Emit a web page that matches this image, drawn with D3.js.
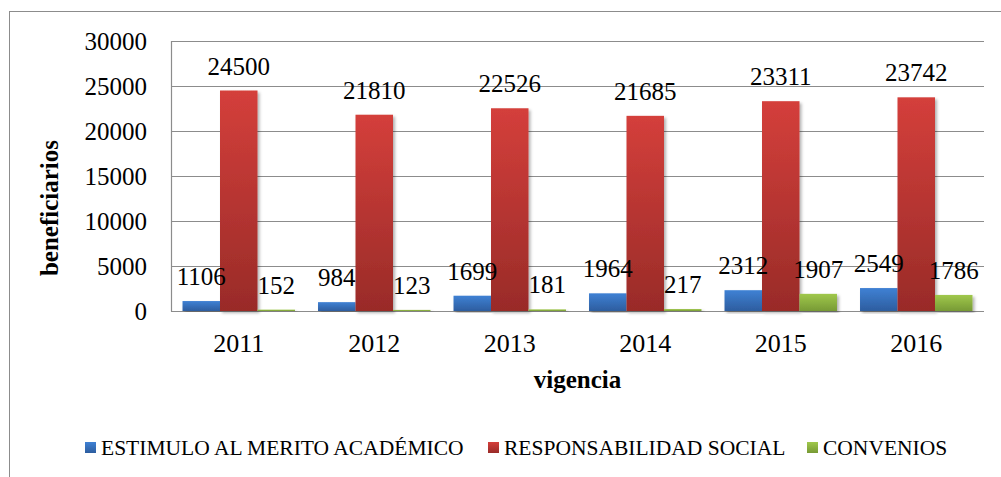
<!DOCTYPE html>
<html><head><meta charset="utf-8">
<script src="https://cdn.jsdelivr.net/npm/d3@7/dist/d3.min.js"></script>
<style>body{margin:0;background:#fff}svg{display:block}</style>
</head><body>
<svg id="c" width="1001" height="477" font-family="'Times New Roman', 'Liberation Serif', serif"></svg>
<script>
const years = ["2011","2012","2013","2014","2015","2016"];
const seriesNames = ["ESTIMULO AL MERITO ACADÉMICO","RESPONSABILIDAD SOCIAL","CONVENIOS"];
const estimulo = [1106,984,1699,1964,2312,2549];
const responsabilidad = [24500,21810,22526,21685,23311,23742];
const convenios = [152,123,181,217,1907,1786];
const yTicks = [0,5000,10000,15000,20000,25000,30000];
const yTitle = "beneficiarios";
const xTitle = "vigencia";

const FONT = "'Times New Roman', 'Liberation Serif', serif";
const values = [estimulo, responsabilidad, convenios];
const colors = [["#3f81d4","#2d5d9f"],["#d43f3b","#992b28"],["#a0c84c","#779a35"]];

const svg = d3.select("#c");
const defs = svg.append("defs");
colors.forEach((c,i)=>{
  const g = defs.append("linearGradient").attr("id","g"+i).attr("x1",0).attr("y1",0).attr("x2",0).attr("y2",1);
  g.append("stop").attr("offset","0%").attr("stop-color",c[0]);
  g.append("stop").attr("offset","100%").attr("stop-color",c[1]);
});
const f = defs.append("filter").attr("id","sh").attr("x","-20%").attr("y","-5%").attr("width","150%").attr("height","115%");
f.append("feDropShadow").attr("dx",2).attr("dy",2).attr("stdDeviation",1.5).attr("flood-color","#000").attr("flood-opacity",0.3);

// outer border
svg.append("rect").attr("x",9.5).attr("y",11.5).attr("width",1010).attr("height",500)
  .attr("fill","none").attr("stroke","#8c8c8c").attr("stroke-width",1);

const L=171, R=984, T=41, B=311;
const y = d3.scaleLinear().domain([0,30000]).range([B,T]);
const x0 = d3.scaleBand().domain(years).range([L,R]).paddingInner(0.17).paddingOuter(0.085);
const x1 = d3.scaleBand().domain(d3.range(3)).range([0,x0.bandwidth()]);

// gridlines
svg.append("g").selectAll("line").data(yTicks).join("line")
  .attr("x1",L).attr("x2",R).attr("y1",d=>Math.round(y(d))+0.5).attr("y2",d=>Math.round(y(d))+0.5)
  .attr("stroke","#8c8c8c").attr("stroke-width",1.2);
svg.append("line").attr("x1",L+0.5).attr("x2",L+0.5).attr("y1",T).attr("y2",B+0.5).attr("stroke","#8c8c8c").attr("stroke-width",1.2);

// y axis labels
const yAxis = d3.axisLeft(y).tickValues(yTicks).tickFormat(d3.format("d")).tickSize(0).tickPadding(24);
const ya = svg.append("g").attr("transform",`translate(${L},0)`).call(yAxis)
  .attr("font-family",FONT).attr("font-size",25);
ya.select(".domain").remove();
ya.selectAll("text").attr("fill","#000");

// x axis labels
const xAxis = d3.axisBottom(x0).tickSize(0).tickPadding(0);
const xa = svg.append("g").attr("transform",`translate(0,${B})`).call(xAxis)
  .attr("font-family",FONT).attr("font-size",26);
xa.select(".domain").remove();
xa.selectAll("text").attr("fill","#000").attr("dy",null).attr("y",41);

// bars
const groups = svg.append("g").selectAll("g").data(years).join("g")
  .attr("transform",d=>`translate(${x0(d)},0)`);
groups.each(function(yr,yi){
  const g = d3.select(this);
  values.forEach((arr,si)=>{
    g.append("rect").attr("x",x1(si)).attr("width",x1.bandwidth())
      .attr("y",y(arr[yi])).attr("height",B-y(arr[yi]))
      .attr("fill",`url(#g${si})`).attr("filter","url(#sh)");
  });
});
groups.each(function(yr,yi){
  const g = d3.select(this);
  values.forEach((arr,si)=>{
    g.append("text").attr("x",x1(si)+x1.bandwidth()/2).attr("y",y(arr[yi])-16)
      .attr("text-anchor","middle").attr("font-size",25).text(arr[yi]);
  });
});

// axis titles
svg.append("text").attr("transform",`translate(58,${208}) rotate(-90)`).attr("text-anchor","middle")
  .attr("font-size",25).attr("font-weight","bold").text(yTitle);
svg.append("text").attr("x",(L+R)/2).attr("y",388).attr("text-anchor","middle")
  .attr("font-size",25).attr("font-weight","bold").text(xTitle);

// legend
const legX = [85,488,807];
const lg = svg.append("g").selectAll("g").data(seriesNames).join("g")
  .attr("transform",(d,i)=>`translate(${legX[i]},0)`);
lg.append("rect").attr("x",0).attr("y",442).attr("width",11).attr("height",11).attr("fill",(d,i)=>`url(#g${i})`);
lg.append("text").attr("x",16).attr("y",455).attr("font-size",21.5).text(d=>d);
</script>
</body></html>
